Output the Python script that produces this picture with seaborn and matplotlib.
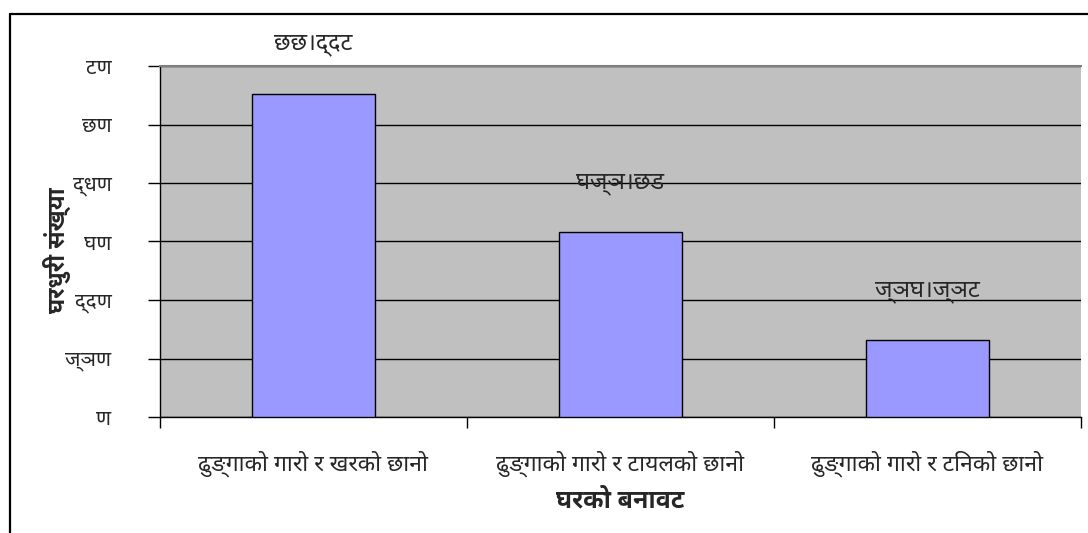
import matplotlib
matplotlib.use("Agg")
import os
import matplotlib.pyplot as plt
import matplotlib.font_manager as fm
from matplotlib.lines import Line2D
import seaborn as sns
import pandas as pd

categories = ["ढुङ्गाको गारो र खरको छानो",
              "ढुङ्गाको गारो र टायलको छानो",
              "ढुङ्गाको गारो र टिनको छानो"]
values = [55.26, 31.58, 13.16]
value_labels = ["छछ।द्दट", "घज्ञ।छड", "ज्ञघ।ज्ञट"]
ytick_values = [0, 10, 20, 30, 40, 50, 60]
ytick_labels = ["ण", "ज्ञण", "द्दण", "घण", "द्धण", "छण", "टण"]
xlabel = "घरको बनावट"
ylabel = "घरधुरी संख्या"

# collect fonts with Devanagari glyphs
deva_fonts = []
try:
    from fontTools.ttLib import TTFont
    for f in sorted(fm.findSystemFonts()):
        try:
            tt = TTFont(f, fontNumber=0, lazy=True)
            cm = tt.getBestCmap()
            if cm and 0x0915 in cm:
                fm.fontManager.addfont(f)
                deva_fonts.append((f, fm.FontProperties(fname=f).get_name()))
        except Exception:
            pass
except Exception:
    pass

prefs = ["notosansdevanagari", "notoserifdevanagari", "mukta", "lohit", "kalimati",
         "gargi", "sarai", "freesans", "freeserif"]
deva_name = None
for p in prefs:
    for f, n in deva_fonts:
        if p in os.path.basename(f).lower().replace("-", "").replace("_", ""):
            deva_name = n
            break
    if deva_name:
        break
if deva_name is None and deva_fonts:
    deva_name = deva_fonts[0][1]

sns.set_theme(style="white")
fams = ([deva_name] if deva_name else []) + ["DejaVu Sans"]
plt.rcParams["font.family"] = fams

df = pd.DataFrame({"cat": categories, "val": values})

fig = plt.figure(figsize=(10.88, 5.33), dpi=100)
ax = fig.add_axes([160/1088, 116/533, 921/1088, 351/533])
ax.set_facecolor("#C0C0C0")

sns.barplot(data=df, x="cat", y="val", color="#9999FF", edgecolor="black",
            linewidth=1.0, width=0.4, saturation=1, ax=ax, zorder=3)

ax.set_ylim(0, 60)
ax.set_xlim(-0.5, 2.5)
ax.set_yticks(ytick_values)
ax.set_yticklabels(ytick_labels, fontsize=15)
ax.yaxis.grid(True, color="black", linewidth=1.0, zorder=1)
ax.set_axisbelow(True)
ax.tick_params(axis="y", direction="out", length=9, width=1, color="black", pad=26, left=True)

ax.set_xticks([-0.5, 0.5, 1.5, 2.5], minor=False)
ax.set_xticklabels([])
ax.set_xticks([0, 1, 2], minor=True)
ax.set_xticklabels(categories, minor=True, fontsize=16.5)
ax.tick_params(axis="x", which="major", direction="out", length=8, width=1, color="black", bottom=True)
ax.tick_params(axis="x", which="minor", length=0, pad=24)

for s in ["left", "bottom"]:
    ax.spines[s].set_color("black")
    ax.spines[s].set_linewidth(1.0)
ax.spines["top"].set_color("#808080")
ax.spines["top"].set_linewidth(1.5)
ax.spines["right"].set_visible(False)

for i, (v, lab) in enumerate(zip(values, value_labels)):
    ax.annotate(lab, (i, v), xytext=(0, 27), textcoords="offset points",
                ha="center", va="bottom", fontsize=17)

ax.set_xlabel(xlabel, fontsize=18, fontweight="bold", labelpad=8)
ax.set_ylabel(ylabel, fontsize=17, fontweight="bold")
ax.yaxis.set_label_coords(-0.097, 0.476)

# outer chart border (left and top edges visible)
fig.add_artist(Line2D([10/1088, 10/1088], [0, 1 - 14/533], transform=fig.transFigure,
                      color="black", linewidth=1.6))
fig.add_artist(Line2D([10/1088, 1], [1 - 14/533, 1 - 14/533], transform=fig.transFigure,
                      color="black", linewidth=1.6))

fig.savefig("out.png", dpi=100, facecolor="white")
